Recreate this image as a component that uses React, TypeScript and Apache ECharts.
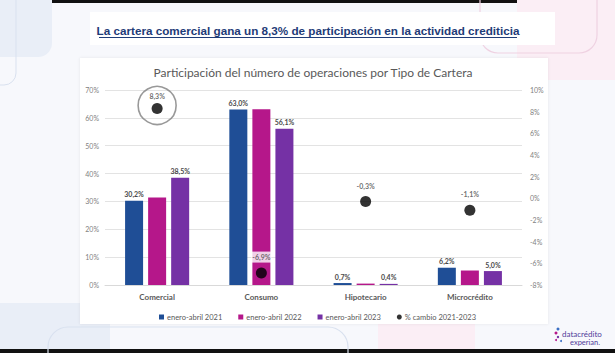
import React, { useEffect, useRef } from "react";
import * as echarts from "echarts";

const categories = ["Comercial", "Consumo", "Hipotecario", "Microcrédito"];
const seriesNames = ["enero-abril 2021", "enero-abril 2022", "enero-abril 2023", "% cambio 2021-2023"];
const values2021 = [30.2, 63.0, 0.7, 6.2];
const values2022 = [31.4, 63.1, 0.5, 5.2];
const values2023 = [38.5, 56.1, 0.4, 5.0];
const changes = [8.3, -6.9, -0.3, -1.1];
const leftTicks = { min: 0, max: 70, interval: 10 };
const rightTicks = { min: -8, max: 10, interval: 2 };

const mainTitle = "La cartera comercial gana un 8,3% de participación en la actividad crediticia";
const chartTitle = "Participación del número de operaciones por Tipo de Cartera";

const fmt = (v: number) => v.toFixed(1).replace(".", ",") + "%";

export default function App() {
  const ref = useRef<HTMLDivElement>(null);
  useEffect(() => {
    if (!ref.current) return;
    const chart = echarts.init(ref.current, undefined, { renderer: "svg" });
    const barLabel = {
      show: true,
      position: "top",
      distance: 3,
      fontSize: 7,
      fontWeight: "bold",
      color: "#4a4a4a",
      fontFamily: "Lato",
      formatter: (p: any) => fmt(p.value),
    };
    const bg = (o: any) => ({ z: -10, silent: true, ...o });
    chart.setOption({
      animation: false,
      backgroundColor: "#f7f8fc",
      textStyle: { fontFamily: "Lato" },
      title: [
        {
          text: chartTitle,
          left: 313,
          top: 66,
          padding: 0,
          textAlign: "center",
          textStyle: { fontSize: 12, fontWeight: "normal", color: "#595959", fontFamily: "Lato" },
        },
        {
          text: mainTitle,
          left: 308,
          top: 24,
          padding: 0,
          textAlign: "center",
          textStyle: { fontSize: 11.7, fontWeight: "bold", color: "#1f3c78", fontFamily: "Liberation Sans" },
        },
      ],
      graphic: [
        bg({ type: "rect", shape: { x: 0, y: 0, width: 615, height: 3 }, style: { fill: "#111" } }),
        bg({ type: "rect", shape: { x: 0, y: 349, width: 615, height: 4 }, style: { fill: "#111" } }),
        bg({ type: "rect", shape: { x: -20, y: -20, width: 72, height: 77, r: 14 }, style: { fill: "#e9eef7" } }),
        bg({ type: "rect", shape: { x: -20, y: -20, width: 36, height: 105, r: 12 }, style: { fill: "none", stroke: "#d9e1ef", lineWidth: 1 } }),
        bg({ type: "rect", shape: { x: 517, y: 0, width: 98, height: 80 }, style: { fill: "#fbeef5" } }),
        bg({ type: "rect", shape: { x: 480, y: -30, width: 117, height: 83, r: 18 }, style: { fill: "none", stroke: "#efd2e2", lineWidth: 1.2 } }),
        bg({ type: "rect", shape: { x: 90, y: 12, width: 465, height: 33 }, style: { fill: "#ffffff" } }),
        bg({ type: "rect", shape: { x: 0, y: 303, width: 110, height: 46 }, style: { fill: "#e9eef7" } }),
        bg({ type: "rect", shape: { x: 48, y: 327, width: 300, height: 60, r: 20 }, style: { fill: "none", stroke: "#d9e1ef", lineWidth: 1.2 } }),
        bg({ type: "rect", shape: { x: 378, y: 323, width: 97, height: 26 }, style: { fill: "#fbeef5" } }),
        bg({ type: "rect", shape: { x: 80, y: 58, width: 468, height: 266 }, style: { fill: "#ffffff", shadowBlur: 3, shadowColor: "rgba(0,0,0,0.08)" } }),
        { type: "line", silent: true, shape: { x1: 99, y1: 37.5, x2: 517, y2: 37.5 }, style: { stroke: "#1f3c78", lineWidth: 1 } },
        { type: "circle", silent: true, shape: { cx: 558, cy: 329, r: 1.5 }, style: { fill: "#3b6fc4" } },
        { type: "circle", silent: true, shape: { cx: 556, cy: 333, r: 1.5 }, style: { fill: "#b5178a" } },
        { type: "circle", silent: true, shape: { cx: 558, cy: 337, r: 1.2 }, style: { fill: "#7030a0" } },
        { type: "circle", silent: true, shape: { cx: 561, cy: 341, r: 1 }, style: { fill: "#3b6fc4" } },
        { type: "circle", silent: true, shape: { cx: 556, cy: 340, r: 1 }, style: { fill: "#b5178a" } },
        {
          type: "text",
          silent: true,
          x: 562,
          y: 330,
          style: { text: "datacrédito", fontSize: 8, fill: "#4f3c9a", fontFamily: "Lato" },
        },
        {
          type: "text",
          silent: true,
          x: 570,
          y: 338,
          style: { text: "experian.", fontSize: 7.5, fill: "#4f3c9a", fontFamily: "Lato" },
        },
      ],
      legend: {
        data: seriesNames.map((n, i) => ({ name: n, icon: i === 3 ? "circle" : "rect" })),
        left: 154,
        top: 308,
        itemWidth: 5,
        itemHeight: 5,
        itemGap: 16,
        textStyle: { fontSize: 7.5, color: "#595959", fontFamily: "Lato", padding: [0, 0, 0, -2] },
      },
      grid: { left: 105, right: 93, top: 90, bottom: 68 },
      xAxis: {
        type: "category",
        data: categories,
        axisTick: { show: false },
        axisLine: { lineStyle: { color: "#d9d9d9" } },
        axisLabel: { fontSize: 8, fontWeight: "bold", color: "#595959", margin: 8, fontFamily: "Lato" },
      },
      yAxis: [
        {
          type: "value",
          ...leftTicks,
          axisLabel: { formatter: "{value}%", fontSize: 7, color: "#7f7f7f", margin: 6, fontFamily: "Lato" },
          axisLine: { show: false },
          axisTick: { show: false },
          splitLine: { lineStyle: { color: "#e3e3e3" } },
        },
        {
          type: "value",
          ...rightTicks,
          axisLabel: { formatter: "{value}%", fontSize: 7, color: "#7f7f7f", margin: 8, fontFamily: "Lato" },
          axisLine: { show: false },
          axisTick: { show: false },
          splitLine: { show: false },
        },
      ],
      series: [
        {
          name: seriesNames[0],
          type: "bar",
          data: values2021,
          barWidth: 18,
          barGap: "28%",
          itemStyle: { color: "#1f4e96" },
          label: barLabel,
        },
        {
          name: seriesNames[1],
          type: "bar",
          data: values2022,
          barWidth: 18,
          barGap: "28%",
          itemStyle: { color: "#b5178a" },
        },
        {
          name: seriesNames[2],
          type: "bar",
          data: values2023,
          barWidth: 18,
          barGap: "28%",
          itemStyle: { color: "#7531a5" },
          label: barLabel,
        },
        {
          name: seriesNames[3],
          type: "scatter",
          yAxisIndex: 1,
          symbolSize: 11,
          z: 5,
          itemStyle: { color: "#000" },
          data: changes.map((v, i) => ({
            value: [categories[i], v],
            label: i === 0 ? { distance: 1 } : undefined,
          })),
          label: {
            show: true,
            position: "top",
            distance: 5,
            fontSize: 7,
            fontWeight: "bold",
            color: "#4a4a4a",
            fontFamily: "Lato",
            backgroundColor: "#ffffff",
            padding: [2, 1, 2, 1],
            formatter: (p: any) => fmt(p.value[1]),
          },
        },
        {
          name: "highlight",
          type: "scatter",
          yAxisIndex: 1,
          symbol: "circle",
          symbolSize: 38,
          symbolOffset: [0, -3],
          silent: true,
          z: 1,
          itemStyle: { color: "rgba(255,255,255,0)", borderColor: "#7f7f7f", borderWidth: 1.6 },
          data: [[categories[0], changes[0]]],
        },
      ],
    });
    return () => chart.dispose();
  }, []);
  return <div ref={ref} style={{ position: "fixed", left: 0, top: 0, width: 615, height: 353 }} />;
}
